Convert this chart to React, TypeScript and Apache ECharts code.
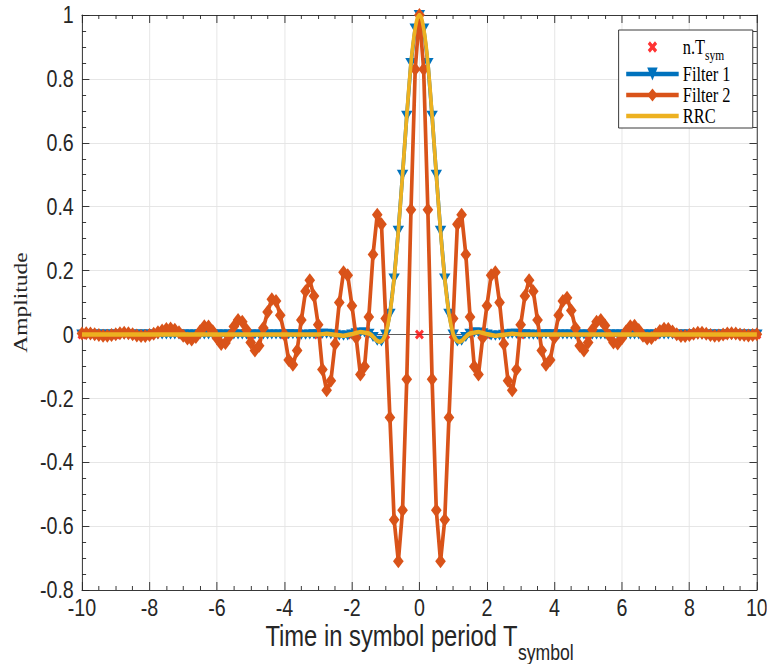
import React, { useEffect, useRef } from "react";
import * as echarts from "echarts";

// The reference picture is horizontally compressed; draw wider and squeeze with CSS.
const SQUEEZE = 0.82;
const PAGE_W = 767;
const PAGE_H = 664;
const CHART_W = Math.round(PAGE_W / SQUEEZE);

// Sample instants (symbol periods), 8 samples per symbol
const sampleTimes: number[] = Array.from({ length: 161 }, (_, i) => -10 + i * 0.125);

const filter1Values: number[] = [
  // -10 .. -3.125
  0, 0, 0, 0, 0, 0, 0, 0,
  0, 0, 0, 0, 0, 0, 0, 0,
  0, 0, 0, 0, 0, 0, 0, 0,
  0, 0, 0, 0, 0, 0, 0, 0,
  0, 0, 0, 0, 0, 0, 0, 0,
  0, 0, 0, 0, 0, 0, 0, 0,
  0, 0.001, 0.001, 0, -0.001, -0.001, 0, 0.001,
  // -3 .. 3
  0.0, 0.002, 0.002, 0.001, -0.001, -0.003, -0.004, -0.003,
  0.0, 0.004, 0.006, 0.006, 0.002, -0.008, -0.02, -0.022,
  0.0, 0.065, 0.175, 0.325, 0.5, 0.685, 0.85, 0.958,
  1.0,
  0.958, 0.85, 0.685, 0.5, 0.325, 0.175, 0.065, 0.0,
  -0.022, -0.02, -0.008, 0.002, 0.006, 0.006, 0.004, 0.0,
  -0.003, -0.004, -0.003, -0.001, 0.001, 0.002, 0.002, 0.0,
  // 3.125 .. 10
  0.001, 0, -0.001, -0.001, 0, 0.001, 0.001, 0,
  0, 0, 0, 0, 0, 0, 0, 0,
  0, 0, 0, 0, 0, 0, 0, 0,
  0, 0, 0, 0, 0, 0, 0, 0,
  0, 0, 0, 0, 0, 0, 0, 0,
  0, 0, 0, 0, 0, 0, 0, 0,
  0, 0, 0, 0, 0, 0, 0, 0,
];

const filter2Values: number[] = [
  0.003, 0.004, 0.003, 0.001, -0.002, -0.004, -0.004, -0.002,
  0.001, 0.004, 0.005, 0.004, 0.001, -0.003, -0.005, -0.005,
  -0.002, 0.002, 0.007, 0.012, 0.017, 0.019, 0.015, 0.007,
  -0.004, -0.013, -0.016, -0.008, 0.01, 0.026, 0.025, 0.01,
  -0.012, -0.03, -0.027, -0.005, 0.025, 0.045, 0.04, 0.015,
  -0.025, -0.05, -0.035, 0.02, 0.07, 0.11, 0.105, 0.06,
  0.0, -0.08, -0.095, -0.05, 0.045, 0.135, 0.17, 0.12,
  0.03, -0.11, -0.175, -0.145, -0.03, 0.1, 0.195, 0.185,
  0.09, -0.01, -0.125, -0.1, 0.055, 0.25, 0.375, 0.345,
  0.05, -0.26, -0.58, -0.71, -0.55, -0.14, 0.39, 0.83,
  1.0,
  0.83, 0.39, -0.14, -0.55, -0.71, -0.58, -0.26, 0.05,
  0.345, 0.375, 0.25, 0.055, -0.1, -0.125, -0.01, 0.09,
  0.185, 0.195, 0.1, -0.03, -0.145, -0.175, -0.11, 0.03,
  0.12, 0.17, 0.135, 0.045, -0.05, -0.095, -0.08, -0.01,
  0.06, 0.105, 0.115, 0.075, 0.02, -0.035, -0.05, -0.025,
  0.015, 0.04, 0.045, 0.028, -0.004, -0.025, -0.028, -0.012,
  0.01, 0.026, 0.027, 0.014, -0.004, -0.013, -0.011, 0.0,
  0.011, 0.018, 0.017, 0.009, 0.001, -0.005, -0.005, -0.002,
  0.002, 0.005, 0.005, 0.002, -0.002, -0.004, -0.003, 0.0,
  0.003, 0.004, 0.003, 0.0, -0.002, -0.003, -0.002, 0.001,
];

const rrcTimes: number[] = [
  -10, -9, -8, -7, -6, -5, -4, -3.5, -3, -2.75, -2.5, -2.25, -2, -1.75,
  -1.5, -1.4375, -1.375, -1.3125, -1.25, -1.1875, -1.125, -1.0625,
  -1.0, -0.9375, -0.875, -0.8125, -0.75, -0.6875, -0.625, -0.5625,
  -0.5, -0.4375, -0.375, -0.3125, -0.25, -0.1875, -0.125, -0.0625,
  0,
  0.0625, 0.125, 0.1875, 0.25, 0.3125, 0.375, 0.4375, 0.5,
  0.5625, 0.625, 0.6875, 0.75, 0.8125, 0.875, 0.9375, 1.0,
  1.0625, 1.125, 1.1875, 1.25, 1.3125, 1.375, 1.4375, 1.5,
  1.75, 2, 2.25, 2.5, 2.75, 3, 3.5, 4, 5, 6, 7, 8, 9, 10,
];

const rrcValues: number[] = [
  0, 0, 0, 0, 0, 0, 0, 0, 0, 0.002, -0.001, -0.004, 0.001, 0.008,
  0.003, -0.001, -0.007, -0.014, -0.02, -0.023, -0.021, -0.013,
  0.002, 0.028, 0.065, 0.115, 0.175, 0.246, 0.325, 0.41,
  0.5, 0.593, 0.685, 0.773, 0.85, 0.912, 0.958, 0.99,
  1.0,
  0.99, 0.958, 0.912, 0.85, 0.773, 0.685, 0.593, 0.5,
  0.41, 0.325, 0.246, 0.175, 0.115, 0.065, 0.028, 0.002,
  -0.013, -0.021, -0.023, -0.02, -0.014, -0.007, -0.001, 0.003,
  0.008, 0.001, -0.004, -0.001, 0.002, 0, 0, 0, 0, 0, 0, 0, 0, 0,
];

const symbolTimes: number[] = [-10, -9, -8, -7, -6, -5, -4, -3, -2, -1, 0, 1, 2, 3, 4, 5, 6, 7, 8, 9, 10];
const symbolValues: number[] = [0, 0, 0, 0, 0, 0, 0, 0, 0, 0, 0, 0, 0, 0, 0, 0, 0, 0, 0, 0, 0];

const seriesNames = ["n.Tsym", "Filter 1", "Filter 2", "RRC"];
const X_MIN = -10, X_MAX = 10, X_STEP = 2;
const Y_MIN = -0.8, Y_MAX = 1, Y_STEP = 0.2;

const AXIS_COLOR = "#262626";
const GRID_COLOR = "#e3e3e3";
const SANS = "Liberation Sans, Arial, sans-serif";
const SERIF = "Liberation Serif, Times New Roman, serif";
const LINE_W = 4.5;

const X_SHAPE = "M0,2.3L2.3,0L5,2.7L7.7,0L10,2.3L7.3,5L10,7.7L7.7,10L5,7.3L2.3,10L0,7.7L2.7,5Z";
const X_MARK = "path://" + X_SHAPE;
const X_LEGEND = "path://M-2,-2M12,12M" + X_SHAPE.slice(1);
const BAR_ICON = "path://M0,0L64,0L64,4.5L0,4.5Z";

const zip = (xs: number[], ys: number[]) => xs.map((x, i) => [x, ys[i]]);

function baseAxis(position: string, isX: boolean, main: boolean) {
  return {
    type: "value",
    position,
    min: isX ? X_MIN : Y_MIN,
    max: isX ? X_MAX : Y_MAX,
    interval: isX ? X_STEP : Y_STEP,
    axisLine: { show: true, onZero: false, lineStyle: { color: AXIS_COLOR, width: 1 } },
    axisTick: { show: true, inside: true, length: isX ? 8 : 9, lineStyle: { color: AXIS_COLOR, width: 1 } },
    minorTick: { show: true, splitNumber: 4, length: isX ? 4 : 5, lineStyle: { color: AXIS_COLOR, width: 1 } },
    axisLabel: main
      ? { show: true, color: AXIS_COLOR, fontSize: 24, fontFamily: SANS, margin: isX ? 6 : 10 }
      : { show: false },
    splitLine: main ? { show: true, lineStyle: { color: GRID_COLOR, width: 1 } } : { show: false },
    minorSplitLine: { show: false },
  };
}

export default function App() {
  const ref = useRef<HTMLDivElement>(null);

  useEffect(() => {
    if (!ref.current) return;
    const chart = echarts.init(ref.current, undefined, { renderer: "svg" });
    const option: any = {
      animation: false,
      backgroundColor: "#ffffff",
      grid: {
        left: Math.round(82 / SQUEEZE),
        right: CHART_W - Math.round(757 / SQUEEZE),
        top: 15,
        bottom: 74,
        containLabel: false,
        outerBoundsMode: "none",
      },
      legend: {
        orient: "vertical",
        right: CHART_W - Math.round(753 / SQUEEZE),
        top: 30,
        z: 10,
        selectedMode: false,
        data: [
          { name: seriesNames[0], icon: X_LEGEND },
          { name: seriesNames[1] },
          { name: seriesNames[2] },
          { name: seriesNames[3], icon: BAR_ICON },
        ],
        itemWidth: 64,
        itemHeight: 16,
        itemGap: 1,
        padding: [7, 27, 2, 7],
        backgroundColor: "#ffffff",
        borderColor: AXIS_COLOR,
        borderWidth: 1,
        borderRadius: 0,
        lineStyle: { width: LINE_W },
        formatter: (name: string) => (name === "n.Tsym" ? "n.T{sub|sym}" : name),
        textStyle: {
          fontFamily: SERIF,
          fontSize: 20,
          color: "#000000",
          rich: {
            sub: { fontFamily: SERIF, fontSize: 14, color: "#000000", padding: [18, 0, 0, 0] },
          },
        },
      },
      xAxis: [
        {
          ...baseAxis("bottom", true, true),
          name: "Time in symbol period T{sub|symbol}",
          nameLocation: "middle",
          nameMoveOverlap: false,
          nameGap: 20,
          nameTextStyle: {
            fontFamily: SANS,
            fontSize: 29,
            color: AXIS_COLOR,
            rich: {
              sub: { fontFamily: SANS, fontSize: 21.5, color: AXIS_COLOR, padding: [31, 0, 0, 0] },
            },
          },
        },
        { ...baseAxis("top", true, false) },
      ],
      yAxis: [
        {
          ...baseAxis("left", false, true),
          name: "Amplitude",
          nameLocation: "middle",
          nameGap: 60,
          nameTextStyle: { fontFamily: SERIF, fontSize: 23.5, color: AXIS_COLOR },
        },
        { ...baseAxis("right", false, false) },
      ],
      series: [
        {
          name: seriesNames[0],
          type: "scatter",
          xAxisIndex: 0,
          yAxisIndex: 0,
          z: 1.5,
          data: zip(symbolTimes, symbolValues),
          symbol: X_MARK,
          symbolSize: [11, 10],
          itemStyle: { color: "#ff0000" },
          markLine: {
            silent: true,
            z: 1,
            symbol: "none",
            label: { show: false },
            lineStyle: { color: "#4d4d4d", width: 1, type: "solid" },
            data: [{ yAxis: 0 }],
          },
        },
        {
          name: seriesNames[1],
          type: "line",
          xAxisIndex: 0,
          yAxisIndex: 0,
          z: 2,
          data: zip(sampleTimes, filter1Values),
          symbol: "triangle",
          symbolRotate: 180,
          symbolSize: [14, 10],
          showSymbol: true,
          showAllSymbol: true,
          color: "#0072bd",
          itemStyle: { color: "#0072bd" },
          lineStyle: { color: "#0072bd", width: LINE_W },
        },
        {
          name: seriesNames[2],
          type: "line",
          xAxisIndex: 0,
          yAxisIndex: 0,
          z: 3,
          data: zip(sampleTimes, filter2Values),
          symbol: "diamond",
          symbolSize: [13, 14],
          showSymbol: true,
          showAllSymbol: true,
          color: "#d95319",
          itemStyle: { color: "#d95319" },
          lineStyle: { color: "#d95319", width: LINE_W },
        },
        {
          name: seriesNames[3],
          type: "line",
          xAxisIndex: 0,
          yAxisIndex: 0,
          z: 4,
          data: zip(rrcTimes, rrcValues),
          symbol: "none",
          showSymbol: false,
          smooth: 0.2,
          color: "#edb120",
          itemStyle: { color: "#edb120" },
          lineStyle: { color: "#edb120", width: LINE_W },
        },
      ],
    };
    chart.setOption(option);
    return () => chart.dispose();
  }, []);

  return (
    <div
      style={{
        position: "absolute",
        left: 0,
        top: 0,
        width: PAGE_W,
        height: PAGE_H,
        overflow: "hidden",
        background: "#ffffff",
      }}
    >
      <div
        ref={ref}
        style={{
          width: CHART_W,
          height: PAGE_H,
          transform: `scaleX(${SQUEEZE})`,
          transformOrigin: "0 0",
        }}
      />
    </div>
  );
}
